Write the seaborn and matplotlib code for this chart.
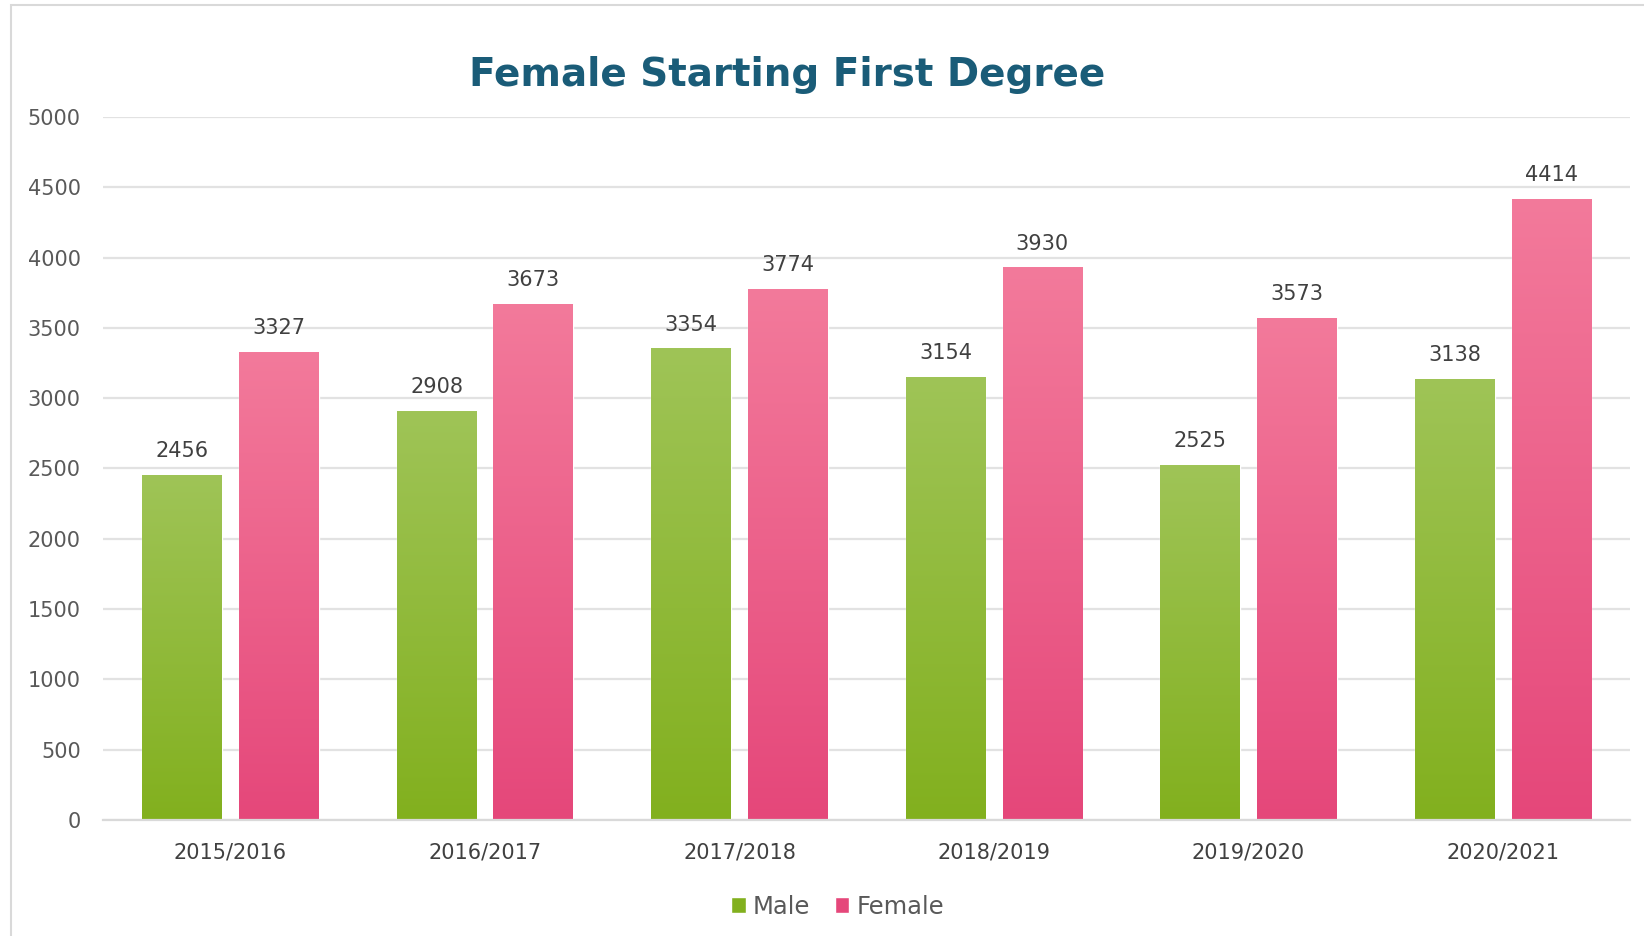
import numpy as np
import pandas as pd
import matplotlib
matplotlib.use("Agg")
import matplotlib.pyplot as plt
from matplotlib.colors import to_rgb
from matplotlib.patches import Rectangle
import seaborn as sns

# Data
years = ["2015/2016", "2016/2017", "2017/2018", "2018/2019", "2019/2020", "2020/2021"]
male = [2456, 2908, 3354, 3154, 2525, 3138]
female = [3327, 3673, 3774, 3930, 3573, 4414]

df = pd.DataFrame({
    "Year": years * 2,
    "Count": male + female,
    "Sex": ["Male"] * len(years) + ["Female"] * len(years),
})

green_top, green_bot = "#9fc457", "#82b01e"
pink_top, pink_bot = "#f37a9b", "#e5477a"

sns.set_theme(style="white")
plt.rcParams["font.family"] = ["DejaVu Sans"]

fig = plt.figure(figsize=(16.44, 9.36), dpi=100)
ax = fig.add_axes([0.0627, 0.124, 0.929, 0.751])

sns.barplot(data=df, x="Year", y="Count", hue="Sex", palette=[green_bot, pink_bot],
            width=0.76, gap=0.176, ax=ax, saturation=1, legend=True)

ax.set_ylim(0, 5000)
ax.set_xlim(-0.5, 5.5)
ax.set_yticks(range(0, 5001, 500))
ax.yaxis.grid(True, color="#e2e2e2", linewidth=1.6)
ax.set_axisbelow(True)
for s in ["top", "right", "left"]:
    ax.spines[s].set_visible(False)
ax.spines["bottom"].set_color("#d9d9d9")
ax.spines["bottom"].set_linewidth(1.6)
ax.tick_params(axis="y", length=0, labelsize=15, labelcolor="#595959", pad=16)
ax.tick_params(axis="x", length=0, labelsize=15, labelcolor="#404040", pad=16)
ax.set_xlabel("")
ax.set_ylabel("")

# vertical gradient fill on every bar
tops = {0: (green_top, green_bot), 1: (pink_top, pink_bot)}
for i, cont in enumerate(ax.containers):
    ct, cb = tops[i]
    grad = np.linspace(0, 1, 256)[:, None, None]
    img = (1 - grad) * np.array(to_rgb(ct)) + grad * np.array(to_rgb(cb))
    for p in cont.patches:
        x0, w, h = p.get_x(), p.get_width(), p.get_height()
        im = ax.imshow(img, extent=[x0, x0 + w, 0, h], aspect="auto",
                       origin="upper", zorder=p.get_zorder() + 0.1)
        im.set_clip_path(p)
    ax.bar_label(cont, fmt="%d", padding=10, fontsize=15, color="#404040")

ax.set_xlim(-0.5, 5.5)
ax.set_ylim(0, 5000)

leg = ax.legend(loc="upper center", bbox_to_anchor=(0.481, -0.075), ncol=2, frameon=False,
                fontsize=17.5, handlelength=0.6, handleheight=0.6, handletextpad=0.3,
                columnspacing=1.0)
for t in leg.get_texts():
    t.set_color("#595959")

fig.text(0.479, 0.9195, "Female Starting First Degree", ha="center", va="center",
         fontsize=28, fontweight="bold", color="#1a5c78")

fig.patches.append(Rectangle((0.0065, -0.05), 1.2, 1.045, transform=fig.transFigure,
                             fill=False, edgecolor="#d9d9d9", linewidth=1.5))

fig.savefig("out.png", dpi=100)
